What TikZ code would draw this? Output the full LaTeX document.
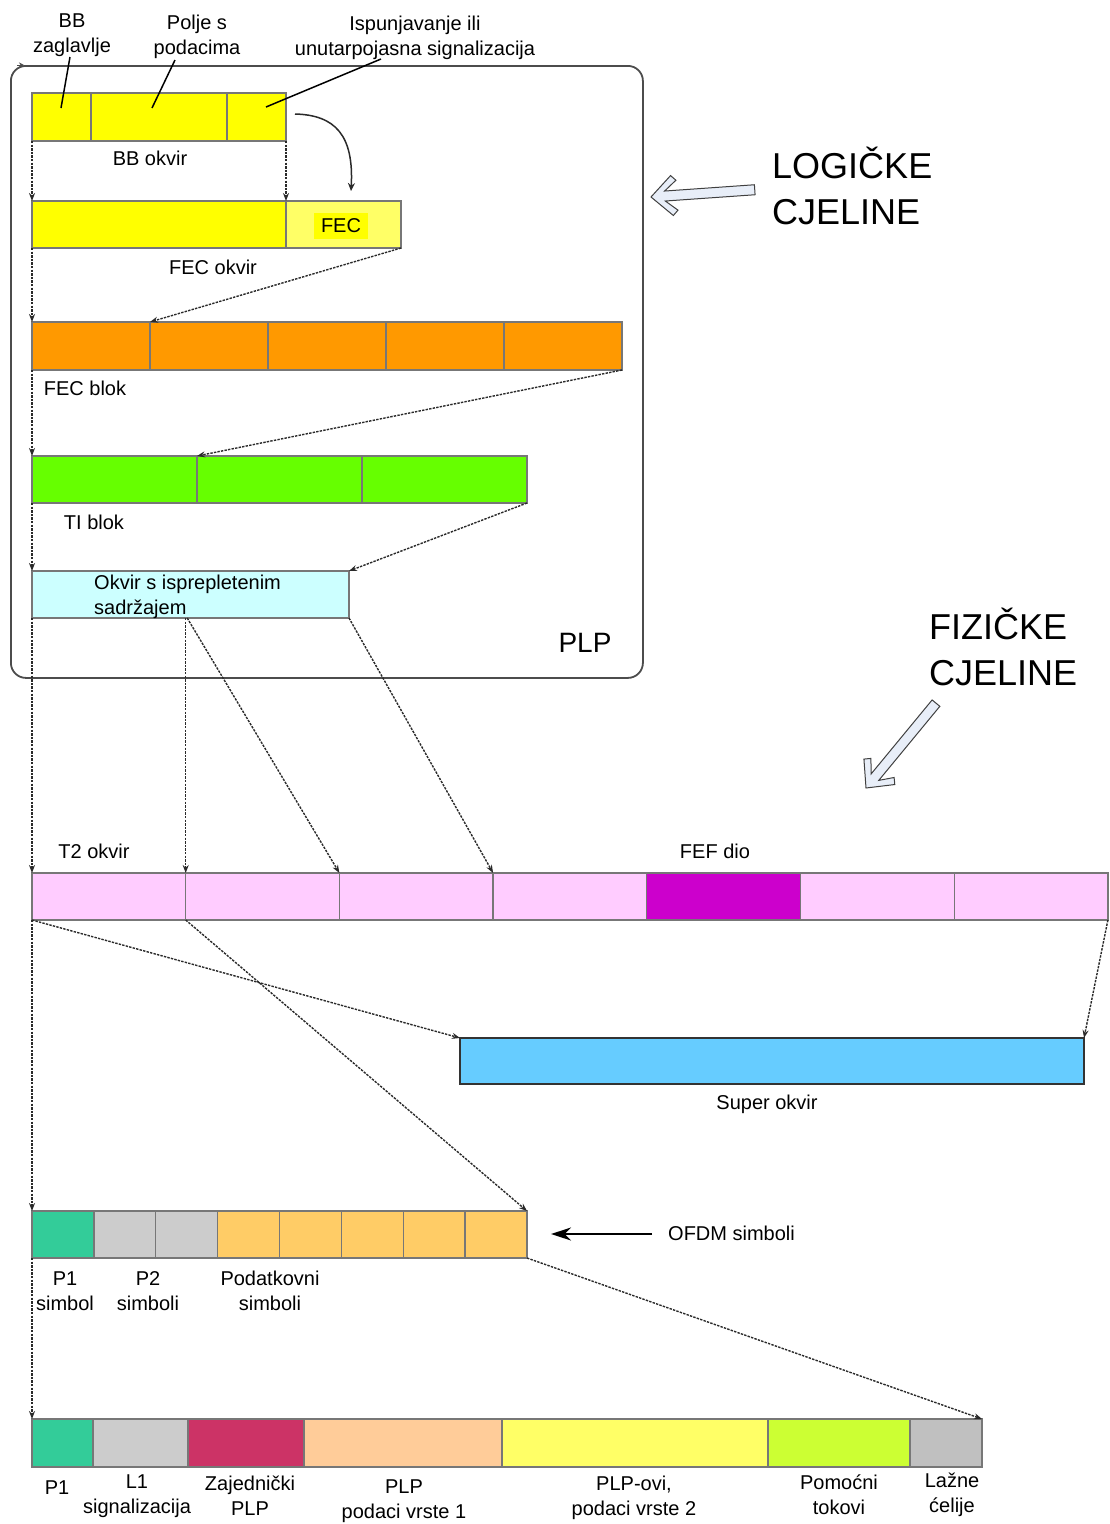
\documentclass[tikz,border=0pt]{standalone}
\usepackage{fontspec}
\setmainfont{Liberation Sans}
\usetikzlibrary{arrows.meta,calc}
\definecolor{yel}{HTML}{FFFF00}
\definecolor{lyel}{HTML}{FFFF66}
\definecolor{orng}{HTML}{FF9900}
\definecolor{grn}{HTML}{66FF00}
\definecolor{cyn}{HTML}{CCFFFF}
\definecolor{pnk}{HTML}{FFCCFF}
\definecolor{mgn}{HTML}{CC00CC}
\definecolor{sky}{HTML}{66CCFF}
\definecolor{teal}{HTML}{33CC99}
\definecolor{lgray}{HTML}{CCCCCC}
\definecolor{gold}{HTML}{FFCC66}
\definecolor{crim}{HTML}{CC3366}
\definecolor{peach}{HTML}{FFCC99}
\definecolor{lime}{HTML}{CCFF33}
\definecolor{dgray}{HTML}{C0C0C0}
\definecolor{cellborder}{HTML}{777777}
\definecolor{connc}{HTML}{2A2A2A}
\definecolor{arrfill}{HTML}{E8EEF8}
\tikzset{
  cell/.style={draw=cellborder, line width=1.3pt, inner sep=0pt, outer sep=0pt, anchor=north west},
  lbl/.style={font=\fontsize{20}{25}\selectfont, inner sep=0pt, align=center},
  biglbl/.style={font=\fontsize{36}{46}\selectfont, inner sep=0pt, align=left, anchor=west},
  conn/.style={draw=connc, line width=1.4pt, dash pattern=on 2.4pt off 1.2pt, -{Stealth[length=8pt,width=6pt]}},
  leader/.style={draw=black, line width=1.5pt},
  harrow/.style={draw=black!75, fill=arrfill, line width=1pt, line join=miter},
}
\begin{document}
\begin{tikzpicture}[x=1pt,y=-1pt]
\useasboundingbox (0,0) rectangle (1110,1524);

% PLP box
\node[draw=black!70, line width=1.8pt, rounded corners=15pt, minimum width=632pt, minimum height=612pt, anchor=north west, inner sep=0pt] (plp) at (10,65) {};
\draw[black!70, -{Stealth[length=5pt,width=5pt]}, line width=0.8pt] (17,65) -- (24,65);
\node[font=\fontsize{28}{32}\selectfont, inner sep=0pt] (plplbl) at (585,643) {PLP};

% BB frame
\node[cell, fill=yel, minimum width=59pt, minimum height=48pt] (bb1) at (32,93) {};
\node[cell, fill=yel, minimum width=136pt, minimum height=48pt] (bb2) at (91,93) {};
\node[cell, fill=yel, minimum width=59pt, minimum height=48pt] (bb3) at (227,93) {};
\node[lbl] (bbz) at (72,35) {BB\\zaglavlje};
\node[lbl] (pol) at (197,37) {Polje s\\podacima};
\node[lbl] (isp) at (415,38) {Ispunjavanje ili\\unutarpojasna signalizacija};
\coordinate (l1a) at (70,57); \coordinate (l1b) at (61,108);
\coordinate (l2a) at (175,60); \coordinate (l2b) at (152,108);
\coordinate (l3a) at (381,59); \coordinate (l3b) at (266,107);
\draw[leader] (l1a) -- (l1b);
\draw[leader] (l2a) -- (l2b);
\draw[leader] (l3a) -- (l3b);
\node[lbl] (bbok) at (150,158) {BB okvir};

% FEC frame
\node[cell, fill=yel, minimum width=254pt, minimum height=47pt] (fec1) at (32,201) {};
\node[cell, fill=lyel, minimum width=115pt, minimum height=47pt] (fec2) at (286,201) {};
\node[lbl, fill=yel, inner xsep=7pt, inner ysep=6pt] (feclbl) at (341,226) {FEC};
\node[lbl] (fecok) at (213,267) {FEC okvir};
\coordinate (cs) at (295,114); \coordinate (ce) at (351,191);
\draw[connc, line width=1.5pt, -{Stealth[length=8pt,width=7pt]}] (cs) .. controls (335,115) and (354,135) .. (ce);

% FEC blok
\foreach \i in {1,...,5}
  \node[cell, fill=orng, minimum width=118pt, minimum height=48pt] (fb\i) at ({32+118*(\i-1)},322) {};
\node[lbl] (fbl) at (85,388) {FEC blok};

% TI blok
\foreach \i in {1,...,3}
  \node[cell, fill=grn, minimum width=165pt, minimum height=47pt] (ti\i) at ({32+165*(\i-1)},456) {};
\node[lbl] (til) at (94,522) {TI blok};

% interleaved frame
\node[cell, fill=cyn, minimum width=317pt, minimum height=47pt] (il) at (32,571) {};
\node[lbl, align=left, anchor=west] (illbl) at (94,597) {Okvir s isprepletenim\\sadržajem};

% T2 frames
\foreach \i in {1,...,7}
  \node[cell, fill=pnk, minimum width=153.7pt, minimum height=47pt] (t2\i) at ({32+153.7*(\i-1)},873) {};
\node[cell, fill=mgn, minimum width=153.7pt, minimum height=47pt] at (t25.north west) {};
\node[lbl] (t2l) at (94,851) {T2 okvir};
\node[lbl] (fefl) at (715,851) {FEF dio};

% Super frame
\node[cell, draw=black!80, fill=sky, minimum width=624pt, minimum height=46pt] (sup) at (460,1038) {};
\node[lbl] (supl) at (767,1104) {Super okvir};

% OFDM symbols
\node[cell, fill=teal, minimum width=61.9pt, minimum height=47pt] (of1) at (32,1211) {};
\foreach \i in {2,3}
  \node[cell, fill=lgray, minimum width=61.9pt, minimum height=47pt] (of\i) at ({32+61.875*(\i-1)},1211) {};
\foreach \i in {4,...,8}
  \node[cell, fill=gold, minimum width=61.9pt, minimum height=47pt] (of\i) at ({32+61.875*(\i-1)},1211) {};
\node[lbl, anchor=west] (ofdml) at (668,1233) {OFDM simboli};
\coordinate (ofa) at (652,1234);
\draw[black, line width=1.8pt, -{Stealth[length=20pt,width=13pt]}] (ofa) -- ([xshift=24pt]of8.east |- ofa);
\node[lbl] (p1s) at (65,1291) {P1\\simbol};
\node[lbl] (p2s) at (148,1291) {P2\\simboli};
\node[lbl] (pds) at (270,1291) {Podatkovni\\simboli};

% bottom row
\node[cell, fill=teal, minimum width=61pt, minimum height=48pt] (bt1) at (32,1419) {};
\node[cell, fill=lgray, minimum width=95pt, minimum height=48pt] (bt2) at (93,1419) {};
\node[cell, fill=crim, minimum width=116pt, minimum height=48pt] (bt3) at (188,1419) {};
\node[cell, fill=peach, minimum width=198pt, minimum height=48pt] (bt4) at (304,1419) {};
\node[cell, fill=lyel, minimum width=266pt, minimum height=48pt] (bt5) at (502,1419) {};
\node[cell, fill=lime, minimum width=142pt, minimum height=48pt] (bt6) at (768,1419) {};
\node[cell, fill=dgray, minimum width=72pt, minimum height=48pt] (bt7) at (910,1419) {};
\node[lbl] (b1l) at (57,1488) {P1};
\node[lbl] (b2l) at (137,1496) {L1\\signalizacija};
\node[lbl] (b3l) at (250,1496) {Zajednički\\PLP};
\node[lbl] (b4l) at (404,1501) {PLP\\podaci vrste 1};
\node[lbl] (b5l) at (634,1498) {PLP-ovi,\\podaci vrste 2};
\node[lbl] (b6l) at (839,1495) {Pomoćni\\tokovi};
\node[lbl] (b7l) at (952,1495) {Lažne\\ćelije};

% connectors
\draw[conn] (bb1.south west) -- (fec1.north west);
\draw[conn] (bb3.south east) -- (fec1.north east);
\draw[conn] (fec1.south west) -- (fb1.north west);
\draw[conn] (fec2.south east) -- (fb2.north west);
\draw[conn] (fb1.south west) -- (ti1.north west);
\draw[conn] (fb5.south east) -- (ti2.north west);
\draw[conn] (ti1.south west) -- (il.north west);
\draw[conn] (ti3.south east) -- (il.north east);
\draw[conn] (il.south west) -- (t21.north west);
\draw[conn] (il.south -| t22.north west) -- (t22.north west);
\draw[conn] ([xshift=1.5pt]il.south -| t22.north west) -- (t23.north west);
\draw[conn] (il.south east) -- (t24.north west);
\draw[conn] (t21.south west) -- (sup.north west);
\draw[conn] (t27.south east) -- (sup.north east);
\draw[conn] (t22.south west) -- (of8.north east);
\draw[conn] (t21.south west) -- (of1.north west);
\draw[conn] (of1.south west) -- (bt1.north west);
\draw[conn] (of8.south east) -- (bt7.north east);

% big labels and hollow arrows
\node[biglbl] (logl) at (772,186) {LOGIČKE\\CJELINE};
\node[biglbl] (fizl) at (929,647) {FIZIČKE\\CJELINE};
\begin{scope}[shift={(651,197)}, rotate=4]
  \draw[harrow] (0,0) -- (21,20) -- (26,15) -- (14,5) -- (104,5) -- (104,-5) -- (14,-5) -- (26,-15) -- (21,-20) -- cycle;
\end{scope}
\begin{scope}[shift={(866,788)}, rotate=50.5]
  \draw[harrow] (0,0) -- (21,20) -- (26,15) -- (14,5) -- (110,5) -- (110,-5) -- (14,-5) -- (26,-15) -- (21,-20) -- cycle;
\end{scope}
\end{tikzpicture}
\end{document}
